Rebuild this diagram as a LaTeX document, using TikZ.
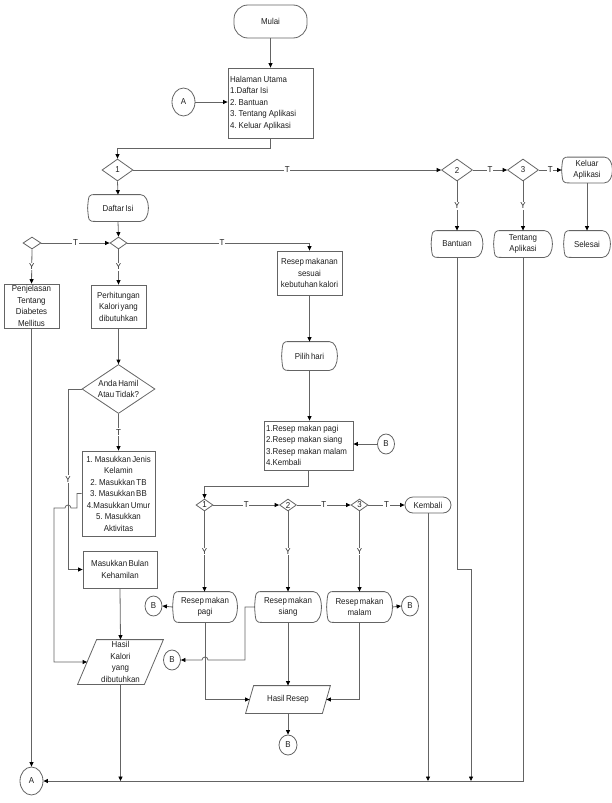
\documentclass[tikz,border=0pt]{standalone}
\usepackage{fontspec}
\setmainfont{Liberation Sans}[FakeStretch=0.92,WordSpace=0.6]
\usetikzlibrary{arrows.meta,shapes.geometric}
\definecolor{lc}{RGB}{100,100,100}
\definecolor{tc}{RGB}{30,30,30}
\newcommand\nf{\fontsize{8.6}{11.5}\selectfont}
\newcommand\dispshape[1]{\draw[ln] ([xshift=8pt]#1.north west) -- ([xshift=-8pt]#1.north east) .. controls ([xshift=2.7pt]#1.north east) and ([xshift=2.7pt]#1.south east) .. ([xshift=-8pt]#1.south east) -- ([xshift=8pt]#1.south west) .. controls ([xshift=1pt]#1.south west) .. (#1.west) .. controls ([xshift=1pt]#1.north west) .. ([xshift=8pt]#1.north west) -- cycle;}
\newcommand\paragram[2]{\draw[ln] ([xshift=#2]#1.north west) -- (#1.north east) -- ([xshift=-#2]#1.south east) -- (#1.south west) -- cycle;}
\tikzset{
  ln/.style={draw=lc, line width=0.8pt},
  arr/.style={ln, -{Triangle[length=4.5pt,width=4pt,color=black]}},
  nd/.style={ln, text=tc, font=\nf, align=center, inner sep=1pt},
  box/.style={nd, rectangle},
  lbox/.style={box, align=left, execute at begin node={\frenchspacing\spaceskip=0.24em plus 0pt minus 0pt\relax}},
  term/.style={nd, rectangle},
  disp/.style={nd, draw=none, rectangle},
  pgram/.style={nd, draw=none, rectangle},
  dia/.style={nd, diamond, inner sep=0pt, aspect=1.4},
  con/.style={nd, ellipse, inner sep=0pt},
  lbl/.style={fill=white, inner sep=0.8pt, text=tc, font=\nf},
}
\begin{document}
\begin{tikzpicture}[x=1pt,y=-1pt]
\useasboundingbox (0,0) rectangle (612,803);
\coordinate (bot) at (0,781);

% top part
\node[term, rounded corners=14pt, minimum width=73pt, minimum height=33pt] (mulai) at (270.5,21.5) {Mulai};
\node[lbox, minimum width=85pt, minimum height=70pt, text width=81pt] (hal) at (270.5,103) {Halaman Utama\\1.Daftar Isi\\2. Bantuan\\3. Tentang Aplikasi\\4. Keluar Aplikasi};
\node[con, minimum width=23pt, minimum height=28pt] (A1) at (183.5,102) {A};
\node[dia, minimum width=31pt, minimum height=22pt] (d1) at (117.5,170) {1};
\node[dia, minimum width=31pt, minimum height=22pt] (d2) at (457,170) {2};
\node[dia, minimum width=31pt, minimum height=22pt] (d3) at (523,170) {3};
\node[disp, minimum width=50pt, minimum height=25pt] (keluar) at (587,170) {Keluar\\Aplikasi};
\node[disp, minimum width=60pt, minimum height=26pt] (daftar) at (118,208) {Daftar Isi};
\node[disp, minimum width=51pt, minimum height=26pt] (bantuan) at (457,244) {Bantuan};
\node[disp, minimum width=58pt, minimum height=26pt] (tentang) at (523,244) {Tentang\\Aplikasi};
\node[disp, minimum width=46pt, minimum height=26pt] (selesai) at (587,244) {Selesai};
\node[dia, minimum width=17pt, minimum height=12pt] (dm) at (118.5,243) {};
\node[dia, minimum width=18pt, minimum height=12pt] (dl) at (32,243) {};

% left column
\node[box, minimum width=65pt, minimum height=44pt] (resep) at (309.5,273) {Resep makanan\\sesuai\\kebutuhan kalori};
\node[box, minimum width=55pt, minimum height=44pt] (penj) at (31.5,306) {Penjelasan\\Tentang\\Diabetes\\Mellitus};
\node[box, minimum width=55pt, minimum height=43pt] (perh) at (118.5,306.5) {Perhitungan\\Kalori yang\\dibutuhkan};
\node[dia, minimum width=73pt, minimum height=49pt] (hamil) at (118.5,389) {Anda Hamil\\Atau Tidak?};
\node[box, minimum width=73pt, minimum height=85pt] (masuk) at (118.5,493.5) {1. Masukkan Jenis\\Kelamin\\2. Masukkan TB\\3. Masukkan BB\\4.Masukkan Umur\\5. Masukkan\\Aktivitas};
\node[box, minimum width=74pt, minimum height=37pt] (bulan) at (120,569.5) {Masukkan Bulan\\Kehamilan};
\node[pgram, minimum width=85pt, minimum height=44pt] (hkal) at (120.5,662) {Hasil\\Kalori\\yang\\dibutuhkan};
\node[con, minimum width=23pt, minimum height=28pt] (A2) at (31.5,781) {A};

% recipe part
\node[disp, minimum width=55pt, minimum height=28pt] (pilih) at (309.5,356) {Pilih hari};
\node[lbox, minimum width=89pt, minimum height=49pt, text width=85pt] (menu) at (308.5,445.5) {1.Resep makan pagi\\2.Resep makan siang\\3.Resep makan malam\\4.Kembali};
\node[con, minimum width=17pt, minimum height=20pt] (B1) at (386,444) {B};
\node[dia, minimum width=17pt, minimum height=12pt] (e1) at (204.5,505) {1};
\node[dia, minimum width=17pt, minimum height=12pt] (e2) at (288,505) {2};
\node[dia, minimum width=17pt, minimum height=12pt] (e3) at (359.5,505) {3};
\node[term, rounded corners=8pt, minimum width=46pt, minimum height=16pt] (kembali) at (428,505) {Kembali};
\node[disp, minimum width=64pt, minimum height=30pt] (pagi) at (205,607) {Resep makan\\pagi};
\node[disp, minimum width=66pt, minimum height=30pt] (siang) at (288,607) {Resep makan\\siang};
\node[disp, minimum width=65pt, minimum height=30pt] (malam) at (359.5,607) {Resep makan\\malam};
\node[con, minimum width=17pt, minimum height=20pt] (Bp) at (153.5,606) {B};
\node[con, minimum width=17pt, minimum height=20pt] (Bm) at (410,606) {B};
\node[con, minimum width=17pt, minimum height=20pt] (Bs) at (172,660) {B};
\node[pgram, minimum width=84pt, minimum height=27pt] (hres) at (288,699.5) {Hasil Resep};
\node[con, minimum width=18pt, minimum height=20pt] (Bb) at (288,745) {B};

% outlines of special shapes
\foreach \n in {keluar,daftar,bantuan,tentang,selesai,pilih,pagi,siang,malam} {\dispshape{\n}}
\paragram{hkal}{19pt}
\paragram{hres}{8pt}

% connectors top
\draw[arr] (mulai.south) -- (hal.north);
\draw[arr] (A1.east) -- (A1.east -| hal.west);
\draw[arr] (hal.south) -- ++(0,10) -| (d1.north);
\draw[arr] (d1.east) -- node[lbl]{T} (d2.west);
\draw[arr] (d2.east) -- node[lbl]{T} (d3.west);
\draw[arr] (d3.east) -- node[lbl]{T} (keluar.west);
\draw[arr] (d2.south) -- node[lbl]{Y} (bantuan.north);
\draw[arr] (d3.south) -- node[lbl]{Y} (tentang.north);
\draw[arr] (keluar.south) -- (selesai.north);
\draw[arr] (d1.south) -- (daftar.north);
\draw[arr] (daftar.south) -- (dm.north);
\draw[arr] (dl.east) -- node[lbl]{T} (dm.west);
\draw[arr] (dm.east) -| node[lbl,pos=0.26]{T} (resep.north);
\draw[arr] (dl.south) -- node[lbl]{Y} (penj.north);
\draw[arr] (dm.south) -- node[lbl]{Y} (perh.north);

% connectors left
\draw[arr] (perh.south) -- (hamil.north);
\draw[arr] (hamil.south) -- node[lbl]{T} (masuk.north);
\draw[arr] (hamil.west) -- (68,389) -- node[lbl]{Y} (68,569.5) -- (bulan.west);
\draw[arr] (masuk.west) -- (77,493.5) -- (77,508) -- (71,508) arc[start angle=0,end angle=180,radius=3pt] -- (54,508) -- (54,662) -- ([xshift=9.5pt]hkal.west);
\draw[arr] (bulan.south) -- (hkal.north);
\draw[arr] (hkal.south) -- (hkal.south |- bot);
\draw[arr] (penj.south) -- (A2.north);
\draw[arr] (tentang.south) |- (A2.east);
\draw[arr] (bantuan.south) -- (457,569) -- (471,569) -- (471,781);

% connectors recipe
\draw[arr] (resep.south) -- (pilih.north);
\draw[arr] (pilih.south) -- (pilih.south |- menu.north);
\draw[arr] (B1.west) -- (B1.west -| menu.east);
\draw[arr] (menu.south) -- ++(0,16) -| (e1.north);
\draw[arr] (e1.east) -- node[lbl]{T} (e2.west);
\draw[arr] (e2.east) -- node[lbl]{T} (e3.west);
\draw[arr] (e3.east) -- node[lbl]{T} (kembali.west);
\draw[arr] (e1.south) -- node[lbl]{Y} (e1.south |- pagi.north);
\draw[arr] (e2.south) -- node[lbl]{Y} (siang.north);
\draw[arr] (e3.south) -- node[lbl]{Y} (e3.south |- malam.north);
\draw[arr] (kembali.south) -- (kembali.south |- bot);
\draw[arr] (pagi.west) -- (Bp.east);
\draw[arr] (malam.east) -- (Bm.west);
\draw[arr] (siang.west) -- (245,607) -- (245,660) -- (208,660) arc[start angle=0,end angle=180,radius=3pt] -- (Bs.east);
\draw[arr] (pagi.south) |- ([xshift=4pt]hres.west);
\draw[arr] (siang.south) -- (hres.north);
\draw[arr] (malam.south) |- ([xshift=-4pt]hres.east);
\draw[arr] (hres.south) -- (Bb.north);
\end{tikzpicture}
\end{document}
